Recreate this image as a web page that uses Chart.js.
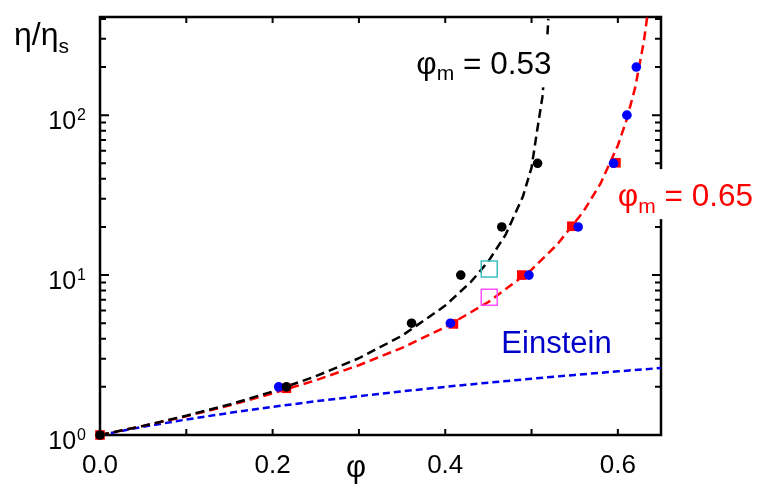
<!DOCTYPE html>
<html lang="en">
<head>
<meta charset="UTF-8">
<title>eta_phi</title>
<style>
  html, body { margin: 0; padding: 0; background: #fff; }
</style>
</head>
<body>
<canvas id="chart" width="760" height="484"></canvas>
<script src="https://cdn.jsdelivr.net/npm/chart.js"></script>
<script>
// axis ranges / ticks
const xMin = 0, xMax = 0.65;
const yMin = 1, yMax = 411;
const xTickLabels = [0.0, 0.2, 0.4, 0.6];
const xTickMarks = [0.1, 0.2, 0.3, 0.4, 0.5, 0.6];
const yTickLabels = [1, 10, 100];
const yTickExp = ['0', '1', '2'];
const yMajorMarks = [10, 100];
const yMinorMarks = [2, 3, 4, 5, 6, 7, 8, 9, 20, 30, 40, 50, 60, 70, 80, 90, 200, 300, 400];

// dashed curve phi_m = 0.53
const blackPhi = [0, 0.05, 0.1, 0.15, 0.2, 0.25, 0.3, 0.35, 0.4, 0.43, 0.45, 0.47, 0.49, 0.5, 0.506, 0.5126, 0.5185, 0.5195];
const blackEta = [1, 1.14, 1.32, 1.55, 1.87, 2.33, 3.02, 4.18, 6.44, 9.1, 12.2, 17.9, 31, 47, 77, 130, 325, 400];

// dashed curve phi_m = 0.65
const redPhi = [0, 0.05, 0.1, 0.15, 0.2, 0.25, 0.3, 0.35, 0.4, 0.45, 0.5, 0.53, 0.56, 0.58, 0.6, 0.61, 0.62, 0.63, 0.634];
const redEta = [1, 1.14, 1.31, 1.53, 1.82, 2.2, 2.73, 3.51, 4.72, 6.79, 10.8, 15.6, 24.9, 37.4, 64.6, 92.9, 148, 286, 411];

// Einstein line
const einPhi = [0, 0.05, 0.1, 0.15, 0.2, 0.25, 0.3, 0.35, 0.4, 0.45, 0.5, 0.55, 0.6, 0.65];
const einEta = [1, 1.125, 1.25, 1.375, 1.5, 1.625, 1.75, 1.875, 2.0, 2.125, 2.25, 2.375, 2.5, 2.625];

// measured points
const blackDotPhi = [0, 0.216, 0.361, 0.418, 0.4655, 0.507];
const blackDotEta = [1, 2, 5, 10, 20, 50];
const blueDotPhi = [0.207, 0.406, 0.497, 0.554, 0.595, 0.6105, 0.6214];
const blueDotEta = [2, 5, 10, 20, 50, 100, 200];
const redSqPhi = [0, 0.216, 0.4095, 0.4887, 0.5467, 0.5978];
const redSqEta = [1, 1.96, 4.95, 10, 20.2, 50.4];
const cyanSqPhi = [0.451];
const cyanSqEta = [10.9];
const magSqPhi = [0.451];
const magSqEta = [7.26];

function pts(xs, ys) {
    return xs.map((v, i) => ({ x: v, y: ys[i] }));
}

const FONT = '"Liberation Sans", Arial, Helvetica, sans-serif';

// draws text pieces one after another: [text, size, dy]
function drawParts(ctx, x, y, parts) {
    parts.forEach(p => {
        ctx.font = p[1] + 'px ' + FONT;
        ctx.fillText(p[0], x, y + p[2]);
        x += ctx.measureText(p[0]).width;
    });
}

const decor = {
    id: 'decor',
    beforeDatasetsDraw(chart) {
        const ctx = chart.ctx, a = chart.chartArea;
        const xs = chart.scales.x, ys = chart.scales.y;
        ctx.save();
        ctx.strokeStyle = '#000';
        ctx.lineWidth = 2.5;
        ctx.strokeRect(a.left, a.top, a.right - a.left, a.bottom - a.top);
        ctx.lineWidth = 2;
        ctx.beginPath();
        xTickMarks.forEach(v => {
            const px = xs.getPixelForValue(v);
            ctx.moveTo(px, a.bottom); ctx.lineTo(px, a.bottom - 6);
            ctx.moveTo(px, a.top); ctx.lineTo(px, a.top + 6);
        });
        yMajorMarks.forEach(v => {
            const py = ys.getPixelForValue(v);
            ctx.moveTo(a.left, py); ctx.lineTo(a.left + 9, py);
            ctx.moveTo(a.right, py); ctx.lineTo(a.right - 9, py);
        });
        yMinorMarks.forEach(v => {
            const py = ys.getPixelForValue(v);
            ctx.moveTo(a.left, py); ctx.lineTo(a.left + 6, py);
            ctx.moveTo(a.right, py); ctx.lineTo(a.right - 6, py);
        });
        ctx.stroke();
        ctx.restore();
    },
    afterDatasetsDraw(chart) {
        const ctx = chart.ctx, a = chart.chartArea;
        const xs = chart.scales.x, ys = chart.scales.y;
        ctx.save();
        ctx.textBaseline = 'alphabetic';
        ctx.textAlign = 'left';

        // phi_m = 0.53 label (white box over the curve)
        let px = xs.getPixelForValue(0.3665), py = ys.getPixelForValue(180);
        ctx.fillStyle = '#fff';
        ctx.fillRect(px - 5, py - 37, 146, 50);
        ctx.fillStyle = '#000';
        drawParts(ctx, px, py, [['φ', 31.5, 0], ['m', 21, 6], [' = 0.53', 31.5, 0]]);

        // phi_m = 0.65 label
        px = xs.getPixelForValue(0.6); py = ys.getPixelForValue(27);
        ctx.fillStyle = '#fff';
        ctx.fillRect(px - 4, py - 37, 146, 50);
        ctx.fillStyle = '#ff0000';
        drawParts(ctx, px, py, [['φ', 31.5, 0], ['m', 21, 7], [' = 0.65', 31.5, 0]]);

        // Einstein
        px = xs.getPixelForValue(0.465); py = ys.getPixelForValue(3.24);
        ctx.fillStyle = '#0000c8';
        drawParts(ctx, px, py, [['Einstein', 31, 0]]);

        // x tick labels
        ctx.fillStyle = '#000';
        ctx.textAlign = 'center';
        ctx.font = '26px ' + FONT;
        xTickLabels.forEach(v => {
            ctx.fillText(v.toFixed(1), xs.getPixelForValue(v), a.bottom + 38);
        });

        // y tick labels 10^n
        yTickLabels.forEach((v, i) => {
            const y = ys.getPixelForValue(v);
            ctx.textAlign = 'right';
            ctx.font = '16px ' + FONT;
            ctx.fillText(yTickExp[i], a.left - 14, y + 5);
            const w = ctx.measureText(yTickExp[i]).width;
            ctx.font = '25px ' + FONT;
            ctx.fillText('10', a.left - 15 - w, y + 14);
        });

        // axis titles
        ctx.textAlign = 'left';
        drawParts(ctx, 14, 45, [['η/η', 32, 0], ['s', 21, 8]]);
        ctx.font = '31px ' + FONT;
        ctx.fillText('φ', 346, 477);
        ctx.restore();
    }
};

const curve = (xsArr, ysArr, color, dash, order) => ({
    data: pts(xsArr, ysArr),
    showLine: true,
    borderColor: color,
    borderWidth: 2.5,
    borderDash: dash,
    pointRadius: 0,
    order: order
});

const marker = (xsArr, ysArr, style, radius, fill, stroke, order) => ({
    data: pts(xsArr, ysArr),
    showLine: false,
    pointStyle: style,
    pointRadius: radius,
    backgroundColor: fill,
    borderColor: stroke,
    borderWidth: style === 'rect' && fill === 'rgba(0,0,0,0)' ? 1.5 : 0,
    clip: false,
    order: order
});

new Chart(document.getElementById('chart').getContext('2d'), {
    type: 'scatter',
    data: {
        datasets: [
            marker(blackDotPhi, blackDotEta, 'circle', 4.8, '#000', '#000', 1),
            marker(blueDotPhi, blueDotEta, 'circle', 4.8, '#0000ff', '#0000ff', 2),
            marker(cyanSqPhi, cyanSqEta, 'rect', 11.3, 'rgba(0,0,0,0)', '#3cbebe', 3),
            marker(magSqPhi, magSqEta, 'rect', 11.3, 'rgba(0,0,0,0)', '#ff50ff', 3),
            marker(redSqPhi, redSqEta, 'rect', 6.8, '#ff0000', '#ff0000', 4),
            curve(blackPhi, blackEta, '#000', [9, 5], 5),
            curve(redPhi, redEta, '#ff0000', [9, 5], 6),
            curve(einPhi, einEta, '#0000ee', [7, 4], 7)
        ]
    },
    options: {
        responsive: false,
        animation: false,
        devicePixelRatio: 1,
        layout: { padding: { left: 100, right: 99, top: 17, bottom: 49 } },
        plugins: {
            legend: { display: false },
            tooltip: { enabled: false }
        },
        scales: {
            x: { type: 'linear', min: xMin, max: xMax, display: false },
            y: { type: 'logarithmic', min: yMin, max: yMax, display: false }
        }
    },
    plugins: [decor]
});
</script>
</body>
</html>
